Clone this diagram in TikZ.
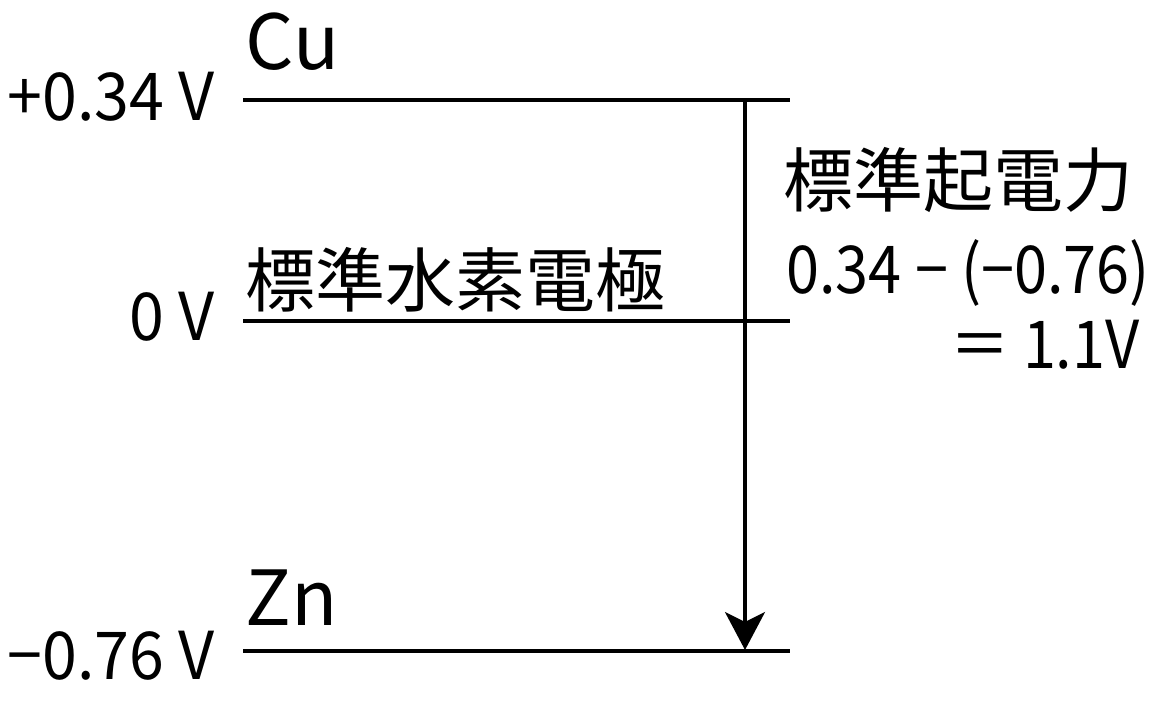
\documentclass[tikz,border=0pt]{standalone}
\usepackage{fontspec}
\setmainfont{Noto Sans CJK JP}
\newfontfamily\narrowfont[FakeStretch=0.9]{Noto Sans CJK JP}
\newfontfamily\potfont[FakeStretch=0.95]{Noto Sans CJK JP}
\usetikzlibrary{arrows.meta}

\tikzset{
  level/.style={line width=1.8pt},
  pot/.style={anchor=base east, inner sep=0pt, font=\potfont\fontsize{33}{40}\selectfont},
  elem/.style={anchor=base west, inner sep=0pt, font=\fontsize{38}{46}\selectfont},
  kanji/.style={anchor=base west, inner sep=0pt, font=\fontsize{35}{42}\selectfont},
  calc/.style={inner sep=0pt, font=\narrowfont\fontsize{33}{40}\selectfont},
}

\begin{document}
\begin{tikzpicture}[x=0.5pt,y=-0.5pt]
  \useasboundingbox (0,0) rectangle (1171,701);

  % Define level end points
  \coordinate (cu_l) at (243,100);
  \coordinate (cu_r) at (790,100);
  \coordinate (she_l) at (243,321);
  \coordinate (she_r) at (790,321);
  \coordinate (zn_l) at (243,651);
  \coordinate (zn_r) at (790,651);
  \coordinate (emf_top) at (745,100);
  \coordinate (emf_bot) at (745,650);

  % Potential labels
  \node[pot] (cu_v) at (215,120) {+0.34 V};
  \node[pot] (she_v) at (215,340) {0 V};
  \node[pot] (zn_v) at (215,679) {−0.76 V};

  % Electrode labels
  \node[elem] (cu) at (245,70) {Cu};
  \node[kanji] (she) at (245,306) {標準水素電極};
  \node[elem] (zn) at (245,625) {Zn};

  % Electromotive force
  \node[kanji] (emf) at (783,206) {標準起電力};
  \node[calc, anchor=base west] (emf_calc) at (786,293) {0.34 − (−0.76)};
  \node[calc, anchor=base east] (emf_val) at (1140,368) {＝ 1.1V};

  % Draw the levels
  \draw[level] (cu_l) -- (cu_r);
  \draw[level] (she_l) -- (she_r);
  \draw[level] (zn_l) -- (zn_r);
  \draw[level, -{Stealth[length=19pt, width=20pt, inset=5pt]}] (emf_top) -- (emf_bot);

\end{tikzpicture}
\end{document}
